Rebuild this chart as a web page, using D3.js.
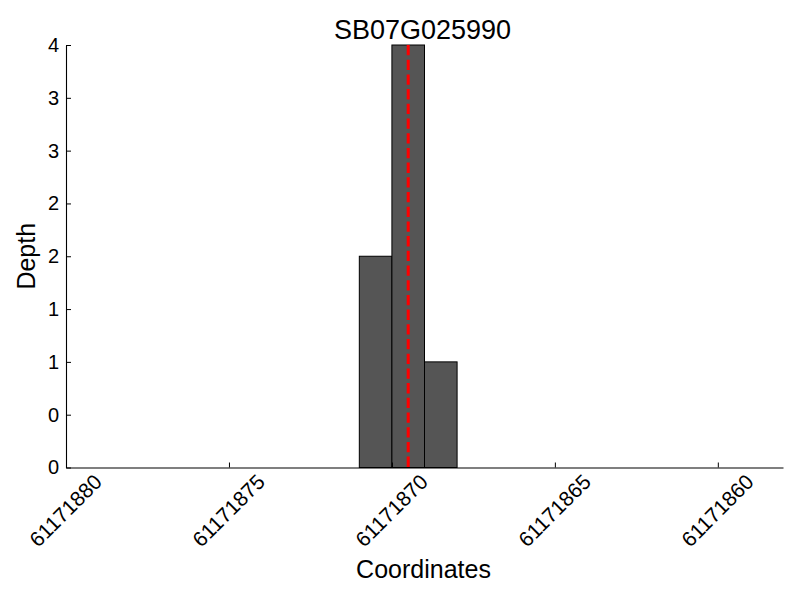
<!DOCTYPE html>
<html>
<head>
<meta charset="utf-8">
<script src="https://cdn.jsdelivr.net/npm/d3@7"></script>
<style>
  html, body { margin: 0; padding: 0; background: #fff; }
  text { font-family: "Liberation Sans", Arial, Helvetica, sans-serif; fill: #000; }
</style>
</head>
<body>
<svg id="chart" width="800" height="600"></svg>
<script>
// ---- data ----
const title = "SB07G025990";
const xLabel = "Coordinates";
const yLabel = "Depth";
const binStarts = [61171871, 61171870, 61171869];
const binEnds   = [61171870, 61171869, 61171868];
const depths    = [2, 4, 1];
const markerPos = [61171869.5];
const xDomain = [61171880, 61171858];
const yDomain = [0, 4];
const xTicks = [61171880, 61171875, 61171870, 61171865, 61171860];
const yTicks = [0, 0.5, 1, 1.5, 2, 2.5, 3, 3.5, 4];
const yTickLabels = ["0", "0", "1", "1", "2", "2", "3", "3", "4"];

// ---- layout ----
const mLeft = 66, mRight = 783, mTop = 45, mBottom = 467.5;
const svg = d3.select("#chart");
const x = d3.scaleLinear().domain(xDomain).range([mLeft, mRight]);
const y = d3.scaleLinear().domain(yDomain).range([mBottom, mTop]);

// bars
svg.append("g").selectAll("rect")
  .data(depths.map((d, i) => ({ s: binStarts[i], e: binEnds[i], v: d })))
  .join("rect")
  .attr("x", d => Math.min(x(d.s), x(d.e)))
  .attr("width", d => Math.abs(x(d.e) - x(d.s)))
  .attr("y", d => y(d.v))
  .attr("height", d => y(0) - y(d.v))
  .attr("fill", "#555555")
  .attr("stroke", "#000")
  .attr("stroke-width", 1);

// red dashed marker
svg.append("g").selectAll("line")
  .data(markerPos)
  .join("line")
  .attr("x1", d => x(d)).attr("x2", d => x(d))
  .attr("y1", y(4)).attr("y2", y(0))
  .attr("stroke", "#ff0000")
  .attr("stroke-width", 3)
  .attr("stroke-dasharray", "10.3,4.4");

// y axis
const yAxis = d3.axisLeft(y).tickValues(yTicks)
  .tickFormat((d, i) => yTickLabels[i])
  .tickSizeInner(-5).tickSizeOuter(0).tickPadding(7);
const gy = svg.append("g").attr("transform", `translate(${mLeft},0)`).call(yAxis);
gy.select(".domain").attr("stroke", "#000").attr("stroke-width", 1.1);
gy.selectAll(".tick line").attr("stroke", "#000");
gy.selectAll(".tick text").attr("font-size", 20)
  .attr("font-family", '"Liberation Sans", Arial, sans-serif').attr("fill", "#000");

// x axis
const xAxis = d3.axisBottom(x).tickValues(xTicks).tickFormat(d3.format("d"))
  .tickSizeInner(-5).tickSizeOuter(0);
const gx = svg.append("g").attr("transform", `translate(0,${mBottom})`).call(xAxis);
gx.select(".domain").attr("stroke", "#000").attr("stroke-width", 1.1);
gx.selectAll(".tick line").attr("stroke", "#000");
gx.selectAll(".tick text")
  .attr("font-size", 21)
  .attr("font-family", '"Liberation Sans", Arial, sans-serif')
  .attr("fill", "#000")
  .attr("text-anchor", "middle")
  .attr("dominant-baseline", "central")
  .attr("dy", null)
  .attr("y", 0)
  .attr("transform", "translate(-1,43) rotate(-45)");

// titles
svg.append("text").attr("x", (mLeft + mRight) / 2 - 2).attr("y", 39)
  .attr("text-anchor", "middle").attr("font-size", 27).text(title);
svg.append("text").attr("x", (mLeft + mRight) / 2 - 1).attr("y", 578)
  .attr("text-anchor", "middle").attr("font-size", 25).text(xLabel);
svg.append("text").attr("transform", `translate(35,${(mTop + mBottom) / 2}) rotate(-90)`)
  .attr("text-anchor", "middle").attr("font-size", 25).text(yLabel);
</script>
</body>
</html>
